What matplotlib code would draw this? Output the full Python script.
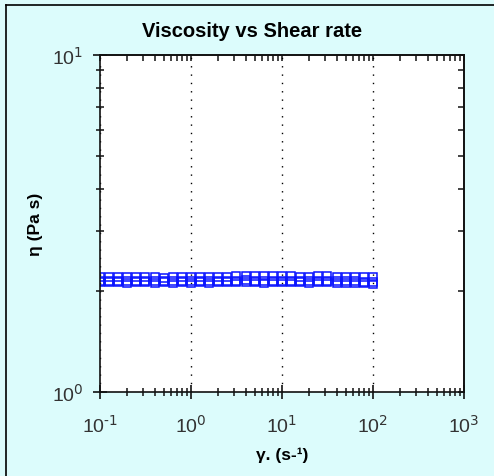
import matplotlib
matplotlib.use('Agg')
import matplotlib.pyplot as plt
from matplotlib.lines import Line2D
from matplotlib.ticker import LogLocator, NullFormatter, FuncFormatter
import numpy as np

plt.rcParams['font.family'] = ['Liberation Sans', 'DejaVu Sans']
plt.rcParams['mathtext.default'] = 'regular'
plt.rcParams['axes.unicode_minus'] = False

# shear rate (1/s)
shear_rate = [0.1, 0.126, 0.158, 0.2, 0.251, 0.316, 0.398, 0.501, 0.631, 0.794,
              1.0, 1.26, 1.58, 2.0, 2.51, 3.16, 3.98, 5.01, 6.31, 7.94,
              10.0, 12.6, 15.8, 20.0, 25.1, 31.6, 39.8, 50.1, 63.1, 79.4, 100.0]

# viscosity (Pa s), three repeat runs
visc_run1 = [2.19, 2.19, 2.19, 2.19, 2.19, 2.19, 2.19, 2.18, 2.19, 2.19,
             2.19, 2.19, 2.19, 2.20, 2.20, 2.21, 2.21, 2.21, 2.21, 2.21,
             2.21, 2.21, 2.20, 2.20, 2.21, 2.21, 2.20, 2.20, 2.20, 2.20, 2.19]
visc_run2 = [2.14, 2.14, 2.14, 2.14, 2.14, 2.14, 2.14, 2.14, 2.14, 2.14,
             2.14, 2.14, 2.14, 2.14, 2.14, 2.14, 2.15, 2.14, 2.14, 2.14,
             2.14, 2.14, 2.14, 2.14, 2.14, 2.14, 2.13, 2.13, 2.13, 2.12, 2.12]
visc_run3 = [2.12, 2.12, 2.12, 2.11, 2.12, 2.12, 2.11, 2.12, 2.11, 2.12,
             2.11, 2.12, 2.11, 2.12, 2.12, 2.12, 2.12, 2.12, 2.11, 2.12,
             2.12, 2.12, 2.12, 2.11, 2.12, 2.12, 2.11, 2.11, 2.10, 2.10, 2.09]

bg = '#dcfcfc'
blue = '#0a14ff'
ink = '#111111'

fig = plt.figure(figsize=(4.94, 4.77), dpi=100, facecolor=bg)
ax = fig.add_axes([0.2024, 0.1761, 0.7369, 0.7065])
ax.set_facecolor('white')

for run in (visc_run1, visc_run2, visc_run3):
    ax.plot(shear_rate, run, linestyle='none', marker='s', markersize=5.8,
            markerfacecolor='none', markeredgecolor=blue, markeredgewidth=1.1)

ax.set_xscale('log')
ax.set_yscale('log')
ax.set_xlim(0.1, 1000)
ax.set_ylim(1, 10)


def pow_label(v, pos):
    return r'$10^{\text{%d}}$' % round(np.log10(v))


def set_log_ticks(axis, labels=True):
    axis.set_major_locator(LogLocator(base=10, numticks=10))
    axis.set_minor_locator(LogLocator(base=10, subs=range(2, 10), numticks=20))
    axis.set_minor_formatter(NullFormatter())
    axis.set_major_formatter(FuncFormatter(pow_label) if labels else NullFormatter())


set_log_ticks(ax.xaxis)
set_log_ticks(ax.yaxis)

ax.grid(True, which='major', axis='x', color='black',
        linestyle=(0, (1, 5)), linewidth=1.0)

for s in ax.spines.values():
    s.set_linewidth(1.2)
    s.set_color(ink)

ax.tick_params(which='both', top=False, right=False, color=ink)
ax.tick_params(axis='x', which='major', direction='inout', length=10, width=1.2,
               labelsize=14, pad=11, labelcolor='#333333')
ax.tick_params(axis='y', which='major', direction='inout', length=10, width=1.2,
               labelsize=14, pad=7, labelcolor='#333333')
ax.tick_params(which='minor', direction='inout', length=5.5, width=1.1)

# top and right ticks point inward only
top = ax.secondary_xaxis('top')
right = ax.secondary_yaxis('right')
set_log_ticks(top.xaxis, labels=False)
set_log_ticks(right.yaxis, labels=False)
for sec in (top, right):
    sec.tick_params(which='both', direction='in', length=4, width=1.1, color=ink)
    for s in sec.spines.values():
        s.set_linewidth(1.2)
        s.set_color(ink)

ax.set_xlabel('γ. (s-¹)', fontsize=12.5, fontweight='bold', labelpad=8)
ax.set_ylabel('η (Pa s)', fontsize=12.5, fontweight='bold', labelpad=6)
fig.text(0.51, 0.935, 'Viscosity vs Shear rate', fontsize=14.5,
         fontweight='bold', ha='center', va='center')

# outer frame (left and top edges)
fig.add_artist(Line2D([0.0131, 0.0131], [0, 0.9874], transform=fig.transFigure,
                      color='black', linewidth=1.2))
fig.add_artist(Line2D([0.0131, 1.0], [0.9874, 0.9874], transform=fig.transFigure,
                      color='black', linewidth=1.2))

fig.savefig('out.png', dpi=100, facecolor=bg)
